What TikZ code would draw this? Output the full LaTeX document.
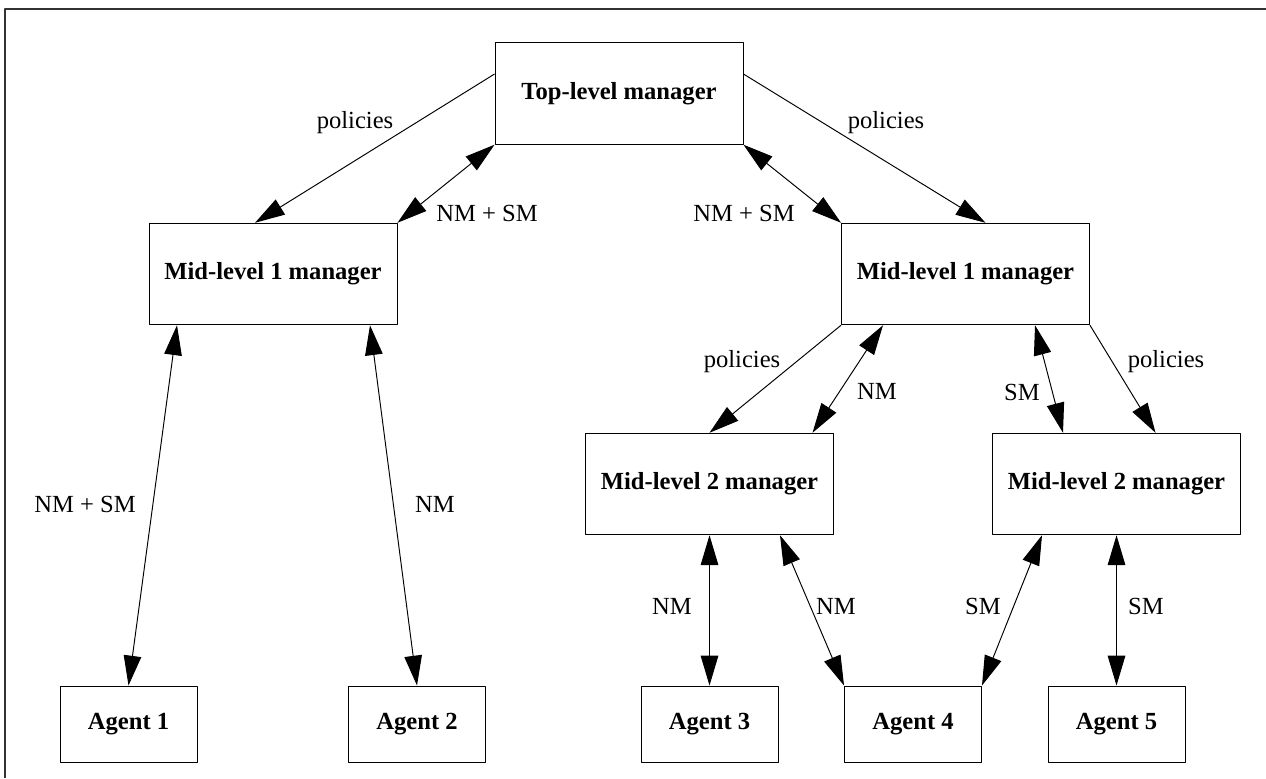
\documentclass[tikz,border=0pt]{standalone}
\usepackage{fontspec}
\setmainfont{Liberation Serif}
\usetikzlibrary{arrows.meta,calc}
\begin{document}
\begin{tikzpicture}[>={Triangle[length=17pt,width=10pt]},line join=round,font=\fontsize{14}{16}\selectfont,x=0.02cm,y=-0.02cm,line width=0.55pt]
	\tikzset{
		hop/.style={draw,minimum width=4.96cm,minimum height=2.03cm,font=\fontsize{14}{16}\selectfont\bfseries},
		agent/.style={draw,minimum width=2.74cm,minimum height=1.52cm,font=\fontsize{14}{16}\selectfont\bfseries},
		nhan/.style={inner sep=1pt}
	}
	\useasboundingbox (0,0) rectangle (1266,778);
	\draw[line width=1.2pt,black!80] (5,778)|-(1266,9);
	% managers
	\node[hop] (top) at (619,93.5) {Top-level manager};
	\node[hop] (m1a) at (273,274) {Mid-level 1 manager};
	\node[hop] (m1b) at (965.5,274) {Mid-level 1 manager};
	\node[hop] (m2a) at (709.5,484) {Mid-level 2 manager};
	\node[hop] (m2b) at (1116.5,484) {Mid-level 2 manager};
	% agents
	\foreach \x [count=\i] in {128.5,417,709.5,913,1116.5}{
		\node[agent] (a\i) at (\x,724) {Agent \i};
	}
	% links
	\draw[->] ($(top.west)+(0,-19.5)$)--($(m1a.north)+(-18,0)$);
	\draw[<->] (m1a.north east)--(top.south west);
	\draw[<->] (top.south east)--(m1b.north west);
	\draw[->] ($(top.east)+(0,-19.5)$)--($(m1b.north)+(20,0)$);
	\draw[<->] ($(m1a.south)+(-96,0)$)--(a1.north);
	\draw[<->] ($(m1a.south)+(97,0)$)--(a2.north);
	\draw[->] (m1b.south west)--(m2a.north);
	\draw[<->] ($(m1b.south)+(-82.5,0)$)--($(m2a.north)+(103,0)$);
	\draw[<->] ($(m1b.south)+(69.5,0)$)--($(m2b.north)+(-53.5,0)$);
	\draw[->] (m1b.south east)--($(m2b.north)+(39,0)$);
	\draw[<->] (m2a.south)--(a3.north);
	\draw[<->] ($(m2a.south)+(70.5,0)$)--(a4.north west);
	\draw[<->] ($(m2b.south)+(-74.5,0)$)--(a4.north east);
	\draw[<->] (m2b.south)--(a5.north);
	% labels
	\foreach \ten/\x/\y/\chu in {l1/355/123/policies,l2/487/213/NM + SM,l3/744/213/NM + SM,l4/886/123/policies,
		l5/85/504/NM + SM,l6/435/504/NM,l7/742/362/policies,l8/877/391/NM,l9/1022/392/SM,l10/1166/362/policies,
		l11/672/606/NM,l12/836/606/NM,l13/983/606/SM,l14/1146/606/SM}{
		\node[nhan] (\ten) at (\x,\y) {\chu};
	}
\end{tikzpicture}
\end{document}
